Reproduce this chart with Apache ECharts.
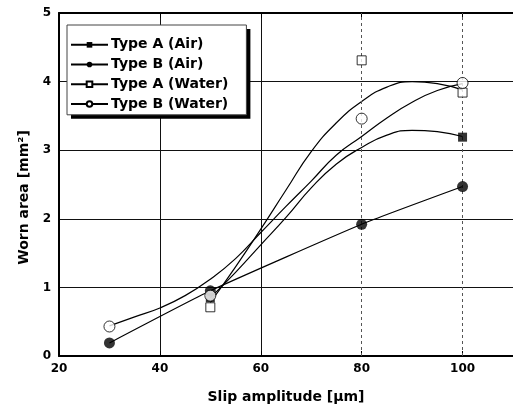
<!DOCTYPE html>
<html>
<head>
<meta charset="utf-8">
<script src="https://cdn.jsdelivr.net/npm/echarts@6/dist/echarts.min.js"></script>
<style>html,body{margin:0;padding:0;background:#fff}#c{width:513px;height:412px}</style>
</head>
<body>
<div id="c"></div>
<script>
// ---- data ----
const xTicks = [20, 40, 60, 80, 100];
const dottedGridX = [80, 100];
const pointX = [30, 50, 80, 100];
const typeAAir   = [null, 0.85, null, 3.19];
const typeBAir   = [0.19, 0.95, 1.92, 2.47];
const typeAWater = [null, 0.71, 4.31, 3.84];
const typeBWater = [0.43, 0.88, 3.46, 3.98];

const curveX      = [30, 35, 40, 45, 50, 55, 60, 65, 70, 75, 80, 85, 90, 95, 100];
const fitAAir     = [null, null, null, null, 0.85, 1.22, 1.62, 2.02, 2.45, 2.80, 3.04, 3.22, 3.29, 3.27, 3.20];
const fitAWater   = [null, null, null, null, 0.78, 1.30, 1.85, 2.42, 2.98, 3.40, 3.71, 3.92, 4.00, 3.97, 3.88];
const fitBWater   = [0.44, 0.57, 0.70, 0.88, 1.12, 1.42, 1.80, 2.18, 2.55, 2.93, 3.20, 3.47, 3.70, 3.87, 3.97];

const names = ['Type A (Air)', 'Type B (Air)', 'Type A (Water)', 'Type B (Water)'];

function pairs(xs, ys) {
  const out = [];
  xs.forEach((x, i) => { if (ys[i] != null) out.push([x, ys[i]]); });
  return out;
}

const FONT = 'DejaVu Sans';
const styles = [
  { symbol: 'rect',   size: 9,  item: { color: '#000' } },
  { symbol: 'circle', size: 11, item: { color: '#000' } },
  { symbol: 'rect',   size: 9,  item: { color: '#fff', borderColor: '#000', borderWidth: 1 } },
  { symbol: 'circle', size: 11, item: { color: '#fff', borderColor: '#000', borderWidth: 1 } }
];
const curves = [pairs(curveX, fitAAir), pairs(pointX, typeBAir), pairs(curveX, fitAWater), pairs(curveX, fitBWater)];
const points = [pairs(pointX, typeAAir), pairs(pointX, typeBAir), pairs(pointX, typeAWater), pairs(pointX, typeBWater)];

const series = [];
names.forEach((n, i) => {
  series.push({
    name: n, type: 'line', data: curves[i], smooth: i === 1 ? 0.15 : 0.5,
    symbol: styles[i].symbol, symbolSize: 6, showSymbol: false,
    itemStyle: styles[i].item,
    lineStyle: { color: '#000', width: 1.2 }, z: 3, silent: true,
    markLine: i === 0 ? {
      silent: true, symbol: 'none', label: { show: false },
      lineStyle: { color: '#555', type: [3, 3], width: 1 },
      data: dottedGridX.map(v => ({ xAxis: v }))
    } : undefined
  });
});
names.forEach((n, i) => {
  series.push({
    name: n, type: 'scatter', data: points[i],
    symbol: styles[i].symbol, symbolSize: styles[i].size,
    itemStyle: styles[i].item, z: 5 + (i >= 2 ? 1 : 0)
  });
});

const legendBase = {
  orient: 'vertical', left: 67, top: 25,
  data: names,
  itemWidth: 37, itemHeight: 7, itemGap: 0,
  padding: [10, 18, 1, 3]
};
const legendText = { fontFamily: FONT, fontWeight: 'bold', fontSize: 14, lineHeight: 19.7, padding: [0, 0, 0, -2] };

const chart = echarts.init(document.getElementById('c'), null, { renderer: 'canvas' });
chart.setOption({
  animation: false,
  backgroundColor: '#fff',
  grid: { left: 59, top: 13, width: 458, height: 343 },
  legend: [
    Object.assign({}, legendBase, {
      z: 8,
      backgroundColor: '#fff', borderWidth: 0,
      shadowColor: '#000', shadowBlur: 0, shadowOffsetX: 4, shadowOffsetY: 4,
      itemStyle: { opacity: 0 }, lineStyle: { opacity: 0 },
      textStyle: Object.assign({}, legendText, { color: 'rgba(0,0,0,0)' })
    }),
    Object.assign({}, legendBase, {
      z: 9,
      backgroundColor: 'rgba(0,0,0,0)', borderColor: '#444', borderWidth: 1,
      textStyle: Object.assign({}, legendText, { color: '#000' })
    })
  ],
  xAxis: [{
    type: 'value', min: 20, max: 110, interval: 20,
    name: 'Slip amplitude [μm]', nameLocation: 'middle', nameGap: 34,
    nameTextStyle: { fontFamily: FONT, fontWeight: 'bold', fontSize: 14, color: '#000' },
    axisLine: { show: true, lineStyle: { color: '#000', width: 2 } },
    axisTick: { show: true, inside: true, length: 5, lineStyle: { color: '#000' } },
    axisLabel: { fontFamily: FONT, fontWeight: 'bold', fontSize: 12, color: '#000', margin: 7, showMaxLabel: false },
    splitLine: { show: true, lineStyle: { color: ['#000', '#111', '#111', 'transparent', 'transparent', 'transparent'], width: 1 } }
  }, {
    type: 'value', position: 'top', min: 20, max: 110, interval: 20,
    axisLine: { show: true, lineStyle: { color: '#000', width: 2 } },
    axisTick: { show: true, inside: true, length: 5, lineStyle: { color: '#000' } },
    axisLabel: { show: false }, splitLine: { show: false }
  }],
  yAxis: {
    type: 'value', min: 0, max: 5, interval: 1,
    name: 'Worn area [mm²]', nameLocation: 'middle', nameGap: 25,
    nameTextStyle: { fontFamily: FONT, fontWeight: 'bold', fontSize: 14, color: '#000', padding: [0, 26, 0, 0] },
    axisLine: { show: true, lineStyle: { color: '#000', width: 2 } },
    axisTick: { show: false },
    axisLabel: { fontFamily: FONT, fontWeight: 'bold', fontSize: 12, color: '#000', margin: 8 },
    splitLine: { show: true, lineStyle: { color: '#111', width: 1 } }
  },
  series: series
});
</script>
</body>
</html>
